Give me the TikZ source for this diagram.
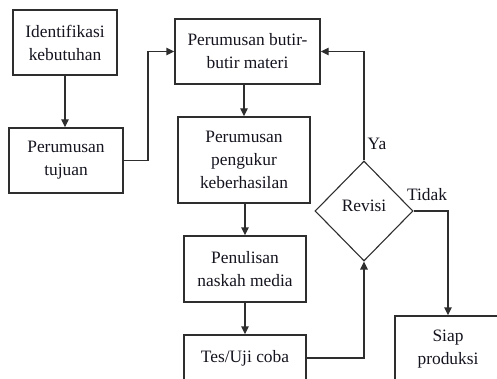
\documentclass[tikz,border=0pt]{standalone}
\usepackage{fontspec}
\setmainfont{Liberation Serif}
\usetikzlibrary{shapes.geometric,arrows.meta}
\definecolor{ln}{HTML}{2E2E2E}
\definecolor{tx}{HTML}{14141F}
\begin{document}
\begin{tikzpicture}[x=1pt,y=-1pt,
  font=\fontsize{17.4}{23}\selectfont,
  box/.style={draw=ln,line width=1.4pt,inner sep=0pt,align=center,text=tx},
  dia/.style={draw=ln,line width=1.1pt,shape=diamond,inner sep=0pt,text=tx},
  conn/.style={draw=ln,line width=1.4pt},
  arr/.style={conn,-{Triangle[length=8pt,width=7.5pt]}},
  lbl/.style={inner sep=0pt,text=tx}]
\useasboundingbox (0,0) rectangle (497,379);
\clip (0,0) rectangle (497,379);
\node[box,minimum width=104pt,minimum height=65pt] (b1) at (65,42.5) {Identifikasi\\kebutuhan};
\node[box,minimum width=114pt,minimum height=65pt] (b2) at (66,160.5) {Perumusan\\tujuan};
\node[box,minimum width=145pt,minimum height=65pt] (b3) at (247.5,51.5) {Perumusan butir-\\butir materi};
\node[box,minimum width=132pt,minimum height=86pt] (b4) at (244,160) {Perumusan\\pengukur\\keberhasilan};
\node[box,minimum width=122pt,minimum height=66pt] (b5) at (245,269) {Penulisan\\naskah media};
\node[box,minimum width=122pt,minimum height=46pt] (b6) at (245,358) {Tes/Uji coba};
\node[box,minimum width=106pt,minimum height=66pt] (b7) at (448,349) {Siap\\produksi};
\node[dia,minimum width=98pt,minimum height=100pt] (d) at (364,211) {};
\node[lbl] (rt) at (364,206) {Revisi};
\node[lbl] (ya) at (377,144) {Ya};
\node[lbl] (td) at (427,195) {Tidak};
\coordinate (c1) at (148,100);
\draw[arr] (b1.south) -- (b1.south |- b2.north);
\draw[arr] (b2.east) -| (c1) |- (b3.west);
\draw[arr] (b4.north |- b3.south) -- (b4.north);
\draw[arr] (b5.north |- b4.south) -- (b5.north);
\draw[arr] (b5.south) -- (b6.north);
\draw[arr] (b6.east) -| (d.south);
\draw[arr] (d.north) |- (b3.east);
\draw[arr] (d.east) -| (b7.north);
\end{tikzpicture}
\end{document}
